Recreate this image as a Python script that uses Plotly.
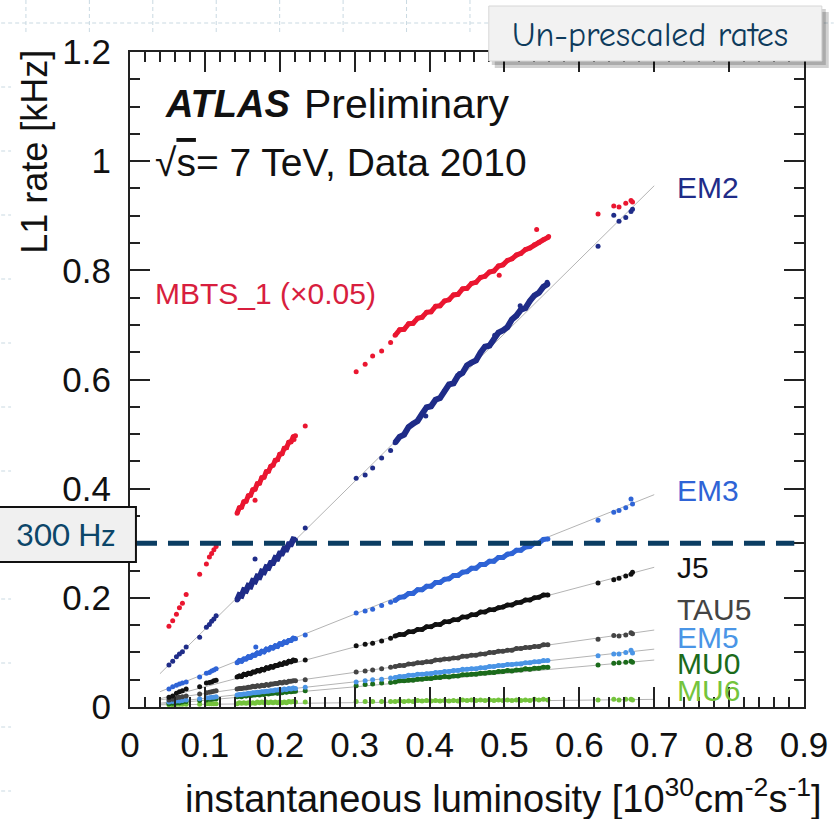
import plotly.graph_objects as go

# ---------------- data ----------------
# luminosity samples shared by all triggers [10^30 cm^-2 s^-1]
lumi = [0.052, 0.057, 0.062, 0.066, 0.070, 0.075, 0.093, 0.102, 0.106, 0.109, 0.112, 0.115,
        0.143, 0.146, 0.149, 0.152, 0.155, 0.158, 0.161, 0.164, 0.167, 0.170, 0.173, 0.176, 0.179,
        0.182, 0.185, 0.188, 0.191, 0.194, 0.197, 0.200, 0.203, 0.206, 0.209, 0.212, 0.215, 0.218, 0.221,
        0.234, 0.302, 0.314, 0.324, 0.336, 0.348,
        0.354, 0.360, 0.366, 0.372, 0.378, 0.384, 0.390, 0.396, 0.402, 0.408, 0.414, 0.420, 0.426,
        0.432, 0.438, 0.444, 0.450, 0.456, 0.462, 0.468, 0.474, 0.480, 0.486, 0.492, 0.498, 0.504,
        0.510, 0.516, 0.522, 0.528, 0.534, 0.540, 0.546, 0.552, 0.558,
        0.625, 0.646, 0.653, 0.662, 0.669, 0.671]
# index ranges of the two long, densely sampled fills inside `lumi`
run_a = (12, 39)
run_b = (45, 80)

mbts_rate = [0.148, 0.158, 0.170, 0.182, 0.190, 0.206, 0.243, 0.262, 0.275, 0.281, 0.288, 0.294,
             0.355, 0.365, 0.366, 0.376, 0.377, 0.387, 0.388, 0.398, 0.399, 0.409, 0.410, 0.420, 0.421,
             0.431, 0.432, 0.441, 0.443, 0.452, 0.453, 0.463, 0.464, 0.474, 0.475, 0.485, 0.486, 0.495, 0.497,
             0.515, 0.614, 0.628, 0.643, 0.652, 0.668,
             0.681, 0.691, 0.692, 0.702, 0.703, 0.712, 0.714, 0.723, 0.724, 0.734, 0.735, 0.744, 0.746,
             0.755, 0.756, 0.766, 0.767, 0.776, 0.778, 0.787, 0.789, 0.797, 0.799, 0.808, 0.810, 0.818,
             0.821, 0.828, 0.831, 0.838, 0.841, 0.847, 0.851, 0.856, 0.860,
             0.903, 0.918, 0.916, 0.923, 0.928, 0.925]
mbts_extra_lumi = [0.167, 0.219, 0.493, 0.543, 0.559]
mbts_extra_rate = [0.379, 0.490, 0.791, 0.875, 0.862]

em2_rate = [0.077, 0.084, 0.092, 0.097, 0.101, 0.110, 0.128, 0.146, 0.151, 0.157, 0.161, 0.167,
            0.196, 0.205, 0.204, 0.214, 0.213, 0.222, 0.221, 0.231, 0.230, 0.239, 0.238, 0.248, 0.247,
            0.256, 0.255, 0.264, 0.264, 0.273, 0.272, 0.281, 0.281, 0.290, 0.289, 0.298, 0.298, 0.307, 0.306,
            0.328, 0.419, 0.425, 0.438, 0.456, 0.470,
            0.484, 0.495, 0.499, 0.513, 0.519, 0.524, 0.537, 0.549, 0.551, 0.563, 0.566, 0.579, 0.591,
            0.593, 0.607, 0.612, 0.626, 0.631, 0.635, 0.649, 0.660, 0.662, 0.674, 0.686, 0.690, 0.696,
            0.710, 0.717, 0.728, 0.731, 0.744, 0.754, 0.759, 0.770, 0.775,
            0.844, 0.901, 0.890, 0.897, 0.908, 0.912]
em2_extra_lumi = [0.167, 0.557, 0.395, 0.440, 0.487, 0.521]
em2_extra_rate = [0.271, 0.778, 0.533, 0.611, 0.681, 0.735]

em3_rate = [0.033, 0.037, 0.040, 0.042, 0.044, 0.046, 0.055, 0.062, 0.063, 0.066, 0.068, 0.070,
            0.081, 0.085, 0.084, 0.088, 0.088, 0.092, 0.091, 0.095, 0.095, 0.099, 0.098, 0.102, 0.101,
            0.106, 0.105, 0.109, 0.108, 0.112, 0.111, 0.116, 0.115, 0.119, 0.118, 0.122, 0.122, 0.126, 0.125,
            0.132, 0.172, 0.176, 0.179, 0.186, 0.192,
            0.195, 0.201, 0.202, 0.208, 0.208, 0.215, 0.215, 0.221, 0.221, 0.228, 0.228, 0.234, 0.235,
            0.241, 0.241, 0.247, 0.248, 0.254, 0.254, 0.261, 0.261, 0.267, 0.267, 0.274, 0.274, 0.280,
            0.281, 0.287, 0.287, 0.293, 0.294, 0.300, 0.300, 0.307, 0.308,
            0.342, 0.357, 0.360, 0.365, 0.381, 0.372]
em3_extra_lumi = [0.168]
em3_extra_rate = [0.110]

j5_rate = [0.018, 0.020, 0.025, 0.028, 0.030, 0.033, 0.037, 0.044, 0.045, 0.046, 0.048, 0.049,
           0.055, 0.057, 0.056, 0.060, 0.059, 0.062, 0.061, 0.064, 0.064, 0.067, 0.066, 0.069, 0.068,
           0.072, 0.071, 0.074, 0.073, 0.076, 0.076, 0.079, 0.078, 0.081, 0.080, 0.084, 0.083, 0.086, 0.085,
           0.086, 0.112, 0.115, 0.117, 0.121, 0.126,
           0.130, 0.133, 0.133, 0.138, 0.138, 0.142, 0.142, 0.147, 0.147, 0.151, 0.151, 0.156, 0.156,
           0.160, 0.160, 0.165, 0.165, 0.169, 0.169, 0.174, 0.174, 0.178, 0.178, 0.182, 0.183, 0.187,
           0.187, 0.191, 0.192, 0.196, 0.196, 0.200, 0.201, 0.205, 0.205,
           0.227, 0.233, 0.236, 0.240, 0.243, 0.247]

tau5_rate = [0.013, 0.014, 0.017, 0.018, 0.019, 0.020, 0.024, 0.026, 0.027, 0.028, 0.029, 0.030,
             0.033, 0.034, 0.034, 0.035, 0.035, 0.036, 0.036, 0.038, 0.037, 0.039, 0.038, 0.040, 0.039,
             0.041, 0.040, 0.042, 0.042, 0.043, 0.043, 0.045, 0.044, 0.046, 0.045, 0.047, 0.047, 0.048, 0.048,
             0.050, 0.064, 0.066, 0.068, 0.070, 0.073,
             0.074, 0.076, 0.076, 0.079, 0.079, 0.081, 0.081, 0.083, 0.083, 0.086, 0.086, 0.088, 0.088,
             0.090, 0.090, 0.093, 0.093, 0.095, 0.095, 0.097, 0.097, 0.100, 0.100, 0.102, 0.102, 0.104,
             0.104, 0.107, 0.107, 0.109, 0.109, 0.111, 0.111, 0.114, 0.114,
             0.124, 0.131, 0.130, 0.132, 0.136, 0.134]

em5_rate = [0.009, 0.010, 0.011, 0.011, 0.012, 0.013, 0.015, 0.017, 0.017, 0.018, 0.018, 0.019,
            0.022, 0.023, 0.023, 0.024, 0.024, 0.025, 0.025, 0.026, 0.026, 0.027, 0.027, 0.028, 0.028,
            0.029, 0.029, 0.030, 0.030, 0.031, 0.031, 0.032, 0.031, 0.033, 0.032, 0.034, 0.033, 0.035, 0.034,
            0.036, 0.046, 0.048, 0.050, 0.051, 0.053,
            0.054, 0.056, 0.056, 0.058, 0.058, 0.060, 0.060, 0.061, 0.061, 0.063, 0.063, 0.065, 0.065,
            0.067, 0.067, 0.069, 0.069, 0.070, 0.070, 0.072, 0.072, 0.074, 0.074, 0.076, 0.076, 0.078,
            0.078, 0.079, 0.079, 0.081, 0.081, 0.083, 0.083, 0.085, 0.085,
            0.094, 0.097, 0.097, 0.100, 0.104, 0.099]

mu0_rate = [0.006, 0.007, 0.008, 0.008, 0.009, 0.010, 0.012, 0.013, 0.014, 0.014, 0.015, 0.015,
            0.019, 0.020, 0.019, 0.021, 0.020, 0.022, 0.021, 0.022, 0.022, 0.023, 0.022, 0.024, 0.023,
            0.025, 0.024, 0.025, 0.025, 0.026, 0.025, 0.027, 0.026, 0.028, 0.027, 0.029, 0.028, 0.029, 0.029,
            0.030, 0.039, 0.041, 0.042, 0.044, 0.045,
            0.046, 0.048, 0.048, 0.049, 0.049, 0.051, 0.051, 0.052, 0.052, 0.054, 0.054, 0.056, 0.055,
            0.057, 0.057, 0.059, 0.059, 0.060, 0.060, 0.062, 0.062, 0.063, 0.063, 0.065, 0.065, 0.067,
            0.066, 0.068, 0.068, 0.070, 0.069, 0.071, 0.071, 0.073, 0.073,
            0.077, 0.080, 0.081, 0.082, 0.084, 0.082]

mu6_rate = [0.004, 0.004, 0.005, 0.005, 0.005, 0.005, 0.005, 0.006, 0.006, 0.006, 0.006, 0.006,
            0.006, 0.008, 0.007, 0.008, 0.007, 0.008, 0.007, 0.008, 0.007, 0.009, 0.008, 0.009, 0.008,
            0.009, 0.008, 0.009, 0.008, 0.009, 0.008, 0.009, 0.008, 0.009, 0.008, 0.010, 0.009, 0.010, 0.009,
            0.009, 0.010, 0.010, 0.010, 0.010, 0.010,
            0.010, 0.011, 0.010, 0.011, 0.010, 0.012, 0.011, 0.012, 0.011, 0.012, 0.011, 0.012, 0.011,
            0.012, 0.011, 0.013, 0.012, 0.013, 0.012, 0.013, 0.012, 0.013, 0.012, 0.013, 0.012, 0.013,
            0.012, 0.013, 0.012, 0.013, 0.012, 0.014, 0.013, 0.014, 0.013,
            0.013, 0.014, 0.013, 0.014, 0.014, 0.013]

# linear fits (grey lines)
fit_lumi = [0.040, 0.700]
em2_fit = [0.061, 0.955]
em3_fit = [0.028, 0.389]
j5_fit = [0.015, 0.256]
tau5_fit = [0.013, 0.141]
em5_fit = [0.007, 0.106]
mu0_fit = [0.005, 0.086]
mu6_fit = [0.004, 0.014]

threshold_khz = 0.3

x_tick_vals = [0, 0.1, 0.2, 0.3, 0.4, 0.5, 0.6, 0.7, 0.8, 0.9]
x_tick_text = ["0", "0.1", "0.2", "0.3", "0.4", "0.5", "0.6", "0.7", "0.8", "0.9"]
y_tick_vals = [0, 0.2, 0.4, 0.6, 0.8, 1.0, 1.2]
y_tick_text = ["0", "0.2", "0.4", "0.6", "0.8", "1", "1.2"]

# (label, colour, rates, fit, label y, band width px)
series = [
    ("MU6", "#74c43c", mu6_rate, mu6_fit, 0.031, 3),
    ("MU0", "#1b6b1b", mu0_rate, mu0_fit, 0.079, 4),
    ("EM5", "#4a95e6", em5_rate, em5_fit, 0.127, 4),
    ("TAU5", "#444444", tau5_rate, tau5_fit, 0.179, 4),
    ("J5", "#111111", j5_rate, j5_fit, 0.255, 4.5),
    ("EM3", "#2f64d6", em3_rate, em3_fit, 0.397, 5),
    ("EM2", "#1f2c88", em2_rate, em2_fit, 0.951, 6),
]
mbts_colour = "#ea1630"

# ---------------- figure ----------------
W, H = 840, 819
ML, MR, MT, MB = 130, 30, 52, 112
PW, PH = W - ML - MR, H - MT - MB


def pxx(p):
    return (p - ML) / PW


def pxy(p):
    return (H - MB - p) / PH


FONT = "Liberation Sans, Arial, Helvetica, sans-serif"
fig = go.Figure()

# fit lines
for name, col, rate, fit, ly, bw in series:
    fig.add_trace(go.Scatter(x=fit_lumi, y=fit, mode="lines",
                             line=dict(color="#b4b4b4", width=1), hoverinfo="skip",
                             showlegend=False))


def add_series(rate, col, bw, name):
    for a, b in (run_a, run_b):
        fig.add_trace(go.Scatter(x=lumi[a:b], y=rate[a:b], mode="lines",
                                 line=dict(color=col, width=bw), hoverinfo="skip",
                                 showlegend=False))
    fig.add_trace(go.Scatter(x=lumi, y=rate, mode="markers", name=name,
                             marker=dict(color=col, size=5, line=dict(width=0)),
                             showlegend=False))


for name, col, rate, fit, ly, bw in series:
    add_series(rate, col, bw, name)
fig.add_trace(go.Scatter(x=em3_extra_lumi, y=em3_extra_rate, mode="markers",
                         marker=dict(color="#2f64d6", size=5), showlegend=False))
fig.add_trace(go.Scatter(x=em2_extra_lumi, y=em2_extra_rate, mode="markers",
                         marker=dict(color="#1f2c88", size=5), showlegend=False))
add_series(mbts_rate, mbts_colour, 5, "MBTS_1")
fig.add_trace(go.Scatter(x=mbts_extra_lumi, y=mbts_extra_rate, mode="markers",
                         marker=dict(color=mbts_colour, size=5), showlegend=False))

annotations = []
for name, col, rate, fit, ly, bw in series:
    annotations.append(dict(x=0.728, y=ly, xref="x", yref="y", text=name, showarrow=False,
                            xanchor="left", yanchor="middle",
                            font=dict(family=FONT, size=30, color=col)))
annotations.append(dict(x=0.031, y=0.758, xref="x", yref="y", text="MBTS_1 (×0.05)",
                        showarrow=False, xanchor="left", yanchor="middle",
                        font=dict(family=FONT, size=30, color="#d81e3e")))
annotations.append(dict(x=0.044, y=1.104, xref="x", yref="y", text="<b><i>ATLAS</i></b>",
                        showarrow=False, xanchor="left", yanchor="middle",
                        font=dict(family=FONT, size=38, color="#111111")))
annotations.append(dict(x=0.229, y=1.104, xref="x", yref="y", text="Preliminary",
                        showarrow=False, xanchor="left", yanchor="middle",
                        font=dict(family=FONT, size=41, color="#111111")))
annotations.append(dict(x=0.031, y=0.998, xref="x", yref="y",
                        text="√<span style='text-decoration:overline'>s</span>= 7 TeV, Data 2010",
                        showarrow=False, xanchor="left", yanchor="middle",
                        font=dict(family=FONT, size=39, color="#111111")))
# axis titles (ROOT-style right aligned)
annotations.append(dict(x=pxx(830), y=pxy(796), xref="paper", yref="paper",
                        text="instantaneous luminosity [10<sup>30</sup>cm<sup>-2</sup>s<sup>-1</sup>]",
                        showarrow=False, xanchor="right", yanchor="middle",
                        font=dict(family=FONT, size=38, color="#111111")))
annotations.append(dict(x=pxx(34), y=pxy(48), xref="paper", yref="paper",
                        text="L1 rate [kHz]", textangle=-90,
                        showarrow=False, xanchor="center", yanchor="top",
                        font=dict(family=FONT, size=36, color="#111111")))
# slide boxes
annotations.append(dict(x=pxx(65), y=pxy(534), xref="paper", yref="paper", text="300 Hz",
                        showarrow=False, xanchor="center", yanchor="middle",
                        font=dict(family="Lato, Noto Sans, sans-serif", size=31, color="#0c4669")))
annotations.append(dict(x=pxx(655), y=pxy(35), xref="paper", yref="paper", text="Un-prescaled rates",
                        showarrow=False, xanchor="center", yanchor="middle",
                        font=dict(family="Comic Sans MS, Comic Neue, Open Sans, sans-serif", size=34,
                                  color="#0e3b5c")))

shapes = []
grid_col = "#c9d9e2"
# background slide grid (only visible around the chart image)
for gx in [25, 89, 153, 217, 281, 345, 409, 473]:
    shapes.append(dict(type="line", xref="paper", yref="paper", x0=pxx(gx), x1=pxx(gx),
                       y0=pxy(0), y1=pxy(35), line=dict(color=grid_col, width=1, dash="4px,3px"),
                       layer="below"))
shapes.append(dict(type="line", xref="paper", yref="paper", x0=pxx(0), x1=pxx(492),
                   y0=pxy(23), y1=pxy(23), line=dict(color=grid_col, width=1, dash="4px,3px"),
                   layer="below"))
shapes.append(dict(type="line", xref="paper", yref="paper", x0=pxx(830), x1=pxx(840),
                   y0=pxy(23), y1=pxy(23), line=dict(color=grid_col, width=1, dash="4px,3px"),
                   layer="below"))
for gy in [87, 151, 215, 279, 343, 407, 471, 599, 663, 727, 791]:
    shapes.append(dict(type="line", xref="paper", yref="paper", x0=pxx(0), x1=pxx(10),
                       y0=pxy(gy), y1=pxy(gy), line=dict(color=grid_col, width=1, dash="4px,3px"),
                       layer="below"))

# 300 Hz threshold line
shapes.append(dict(type="line", xref="x", yref="y", x0=0.008, x1=0.887,
                   y0=threshold_khz, y1=threshold_khz,
                   line=dict(color="#0b3d62", width=5, dash="21px,11px"), layer="above"))
# 300 Hz box
shapes.append(dict(type="rect", xref="paper", yref="paper", x0=pxx(-3), x1=pxx(136),
                   y0=pxy(562), y1=pxy(507), fillcolor="#f0f0f0",
                   line=dict(color="#111111", width=2), layer="above"))
# Un-prescaled box with shadow
shapes.append(dict(type="rect", xref="paper", yref="paper", x0=pxx(498), x1=pxx(835),
                   y0=pxy(68), y1=pxy(12), fillcolor="rgba(0,0,0,0.18)", line=dict(width=0),
                   layer="above"))
shapes.append(dict(type="rect", xref="paper", yref="paper", x0=pxx(495), x1=pxx(832),
                   y0=pxy(65), y1=pxy(9), fillcolor="rgba(0,0,0,0.18)", line=dict(width=0),
                   layer="above"))
shapes.append(dict(type="rect", xref="paper", yref="paper", x0=pxx(492), x1=pxx(828),
                   y0=pxy(61), y1=pxy(6), fillcolor="#f2f2f2",
                   line=dict(color="#d6d6d6", width=1), layer="above"))

axis_common = dict(showgrid=False, zeroline=False, showline=True, linecolor="#222222",
                   linewidth=2, mirror="allticks", ticks="inside", ticklen=20, tickwidth=1.5,
                   tickcolor="#222222", tickfont=dict(family=FONT, size=35, color="#111111"),
                   layer="above traces", tickmode="array")

fig.update_layout(
    width=W, height=H, margin=dict(l=ML, r=MR, t=MT, b=MB),
    paper_bgcolor="white", plot_bgcolor="white",
    xaxis=dict(range=[0, 0.9], tickvals=x_tick_vals, ticktext=x_tick_text, ticklabelstandoff=6,
               minor=dict(tickmode="linear", tick0=0, dtick=0.02, ticks="inside", ticklen=10,
                          tickwidth=1.5, tickcolor="#222222"),
               **axis_common),
    yaxis=dict(range=[0, 1.2], tickvals=y_tick_vals, ticktext=y_tick_text, ticklabelstandoff=10,
               minor=dict(tickmode="linear", tick0=0, dtick=0.05, ticks="inside", ticklen=10,
                          tickwidth=1.5, tickcolor="#222222"),
               **axis_common),
    annotations=annotations, shapes=shapes, showlegend=False,
)

fig.write_html("out.html", config={"displayModeBar": False},
               post_script="document.body.style.margin='0';")
